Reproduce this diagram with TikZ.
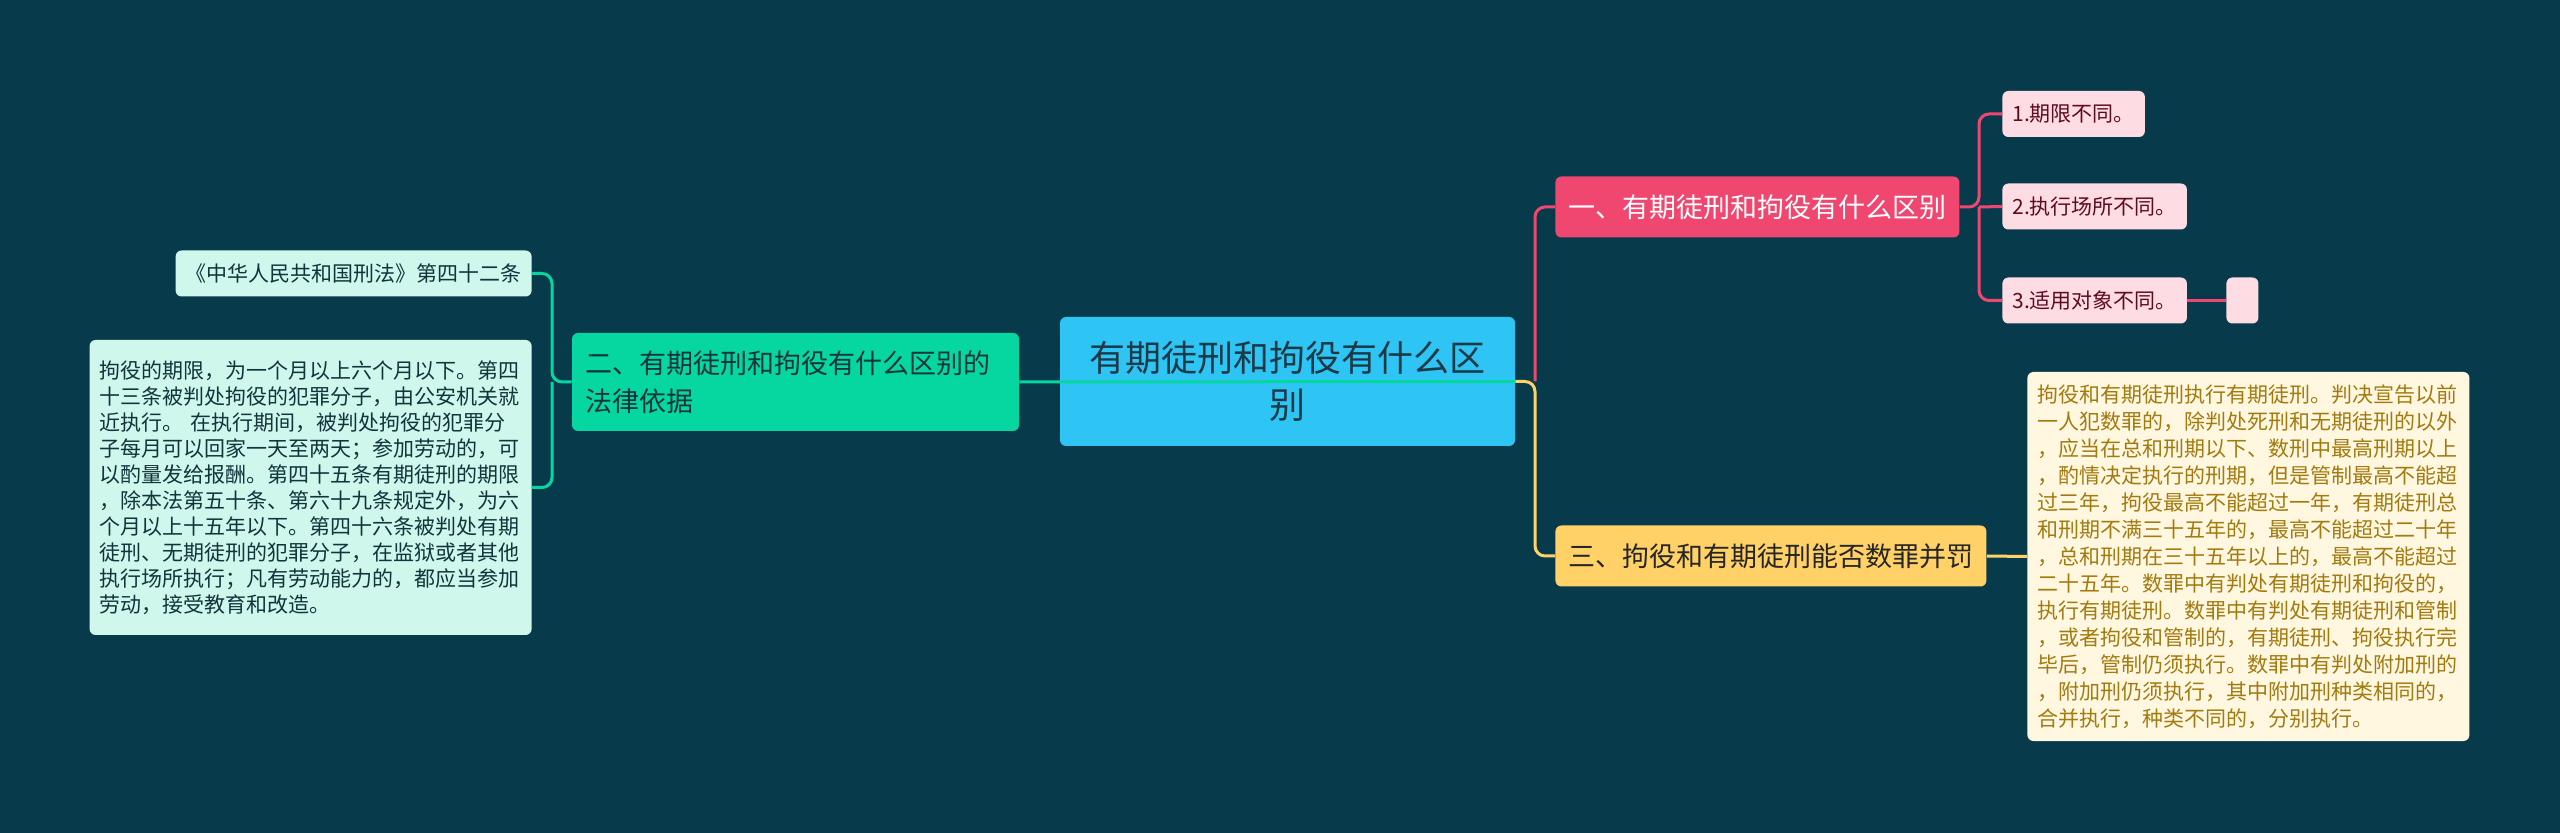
\documentclass[tikz,border=0pt]{standalone}
\usepackage{fontspec}
\setmainfont{Noto Sans CJK SC}
\definecolor{bgcol}{HTML}{073B4C}
\definecolor{rootcol}{HTML}{2EC4F4}
\definecolor{roottxt}{HTML}{1B3A48}
\definecolor{greencol}{HTML}{06D6A0}
\definecolor{greenleaf}{HTML}{CFF7EC}
\definecolor{greentxt}{HTML}{12343C}
\definecolor{pinkcol}{HTML}{EF476F}
\definecolor{pinkleaf}{HTML}{FDDCE3}
\definecolor{pinktxt}{HTML}{5E0A22}
\definecolor{yellowcol}{HTML}{FFD166}
\definecolor{yellowleaf}{HTML}{FFF7E0}
\definecolor{yellowtxt}{HTML}{A27A0E}
\tikzset{
  box/.style={rounded corners=3pt, inner ysep=0pt, inner xsep=5pt, align=left},
  rootbox/.style={box, fill=rootcol, text=roottxt, align=center,
    font=\fontsize{18}{23.5}\selectfont, minimum width=227.5pt, minimum height=64.5pt},
  mainbox/.style={box, fill=#1, inner xsep=6.5pt, minimum height=30.5pt,
    font=\fontsize{13.5}{18.8}\selectfont},
  leafbox/.style={box, fill=#1, minimum height=23pt,
    font=\fontsize{10.5}{12.2}\selectfont},
  link/.style={line width=1.5pt, rounded corners=5pt, draw=#1},
}
\begin{document}
\begin{tikzpicture}[x=0.5pt, y=-0.5pt]
\newcommand{\jl}{552}
\newcommand{\jr}{1535}
\newcommand{\jp}{1979}
\fill [bgcol] (0,0) rectangle (2560,833);
\useasboundingbox (0,0) rectangle (2560,833);

% root and main branches
\node [rootbox] (root) at (1287.5,381.5) {有期徒刑和拘役有什么区\\别};
\node [mainbox=greencol, text=greentxt, text width=210.5pt, minimum height=49pt]
  (basis) at (795.5,382) {二、有期徒刑和拘役有什么区别的\\法律依据};
\node [mainbox=pinkcol, text=white, anchor=west] (diff) at (1555,207)
  {一、有期徒刑和拘役有什么区别};
\node [mainbox=yellowcol, text=black!85, anchor=west] (merge) at (1555,556)
  {三、拘役和有期徒刑能否数罪并罚};

% leaves of the left branch
\node [leafbox=greenleaf, text=greentxt, inner xsep=5pt, anchor=east] (law) at (532,273.5)
  {《中华人民共和国刑法》第四十二条};
\node [leafbox=greenleaf, text=greentxt, text width=211pt, minimum height=147.5pt,
  font=\fontsize{10.5}{13}\selectfont, anchor=east] (article) at (532,487.5)
  {拘役的期限，为一个月以上六个月以下。第四\\
   十三条被判处拘役的犯罪分子，由公安机关就\\
   近执行。 在执行期间，被判处拘役的犯罪分\\
   子每月可以回家一天至两天；参加劳动的，可\\
   以酌量发给报酬。第四十五条有期徒刑的期限\\
   ，除本法第五十条、第六十九条规定外，为六\\
   个月以上十五年以下。第四十六条被判处有期\\
   徒刑、无期徒刑的犯罪分子，在监狱或者其他\\
   执行场所执行；凡有劳动能力的，都应当参加\\
   劳动，接受教育和改造。};

% leaves of the pink branch
\node [leafbox=pinkleaf, text=pinktxt, anchor=west] (term) at (2002,114) {1.期限不同。};
\node [leafbox=pinkleaf, text=pinktxt, anchor=west] (place) at (2002,206.5) {2.执行场所不同。};
\node [leafbox=pinkleaf, text=pinktxt, anchor=west] (object) at (2002,300.5) {3.适用对象不同。};
\node [leafbox=pinkleaf, minimum width=16pt, inner xsep=0pt, anchor=west] (blank) at (2226,300.5) {};

% leaf of the yellow branch
\node [leafbox=yellowleaf, text=yellowtxt, text width=211pt, minimum height=184.5pt,
  font=\fontsize{10.5}{13.5}\selectfont, anchor=west] (rule) at (2027,556.5)
  {拘役和有期徒刑执行有期徒刑。判决宣告以前\\
   一人犯数罪的，除判处死刑和无期徒刑的以外\\
   ，应当在总和刑期以下、数刑中最高刑期以上\\
   ，酌情决定执行的刑期，但是管制最高不能超\\
   过三年，拘役最高不能超过一年，有期徒刑总\\
   和刑期不满三十五年的，最高不能超过二十年\\
   ，总和刑期在三十五年以上的，最高不能超过\\
   二十五年。数罪中有判处有期徒刑和拘役的，\\
   执行有期徒刑。数罪中有判处有期徒刑和管制\\
   ，或者拘役和管制的，有期徒刑、拘役执行完\\
   毕后，管制仍须执行。数罪中有判处附加刑的\\
   ，附加刑仍须执行，其中附加刑种类相同的，\\
   合并执行，种类不同的，分别执行。};

\coordinate (jroot) at (\jr,381.5);
\coordinate (jbasis) at (\jl,382);
\coordinate (jdiff) at (\jp,207);

\draw [link=greencol] (root.east) -- (basis.east);
\draw [link=yellowcol] (root.east) -- (jroot) |- (merge.west);
\draw [link=pinkcol] (jroot) |- (diff.west);
\draw [link=greencol] (basis.west) -- (jbasis) |- (law.east);
\draw [link=greencol] (jbasis) |- (article.east);
\draw [link=pinkcol] (diff.east) -- (jdiff) |- (term.west);
\draw [link=pinkcol] (jdiff) -- (place.west);
\draw [link=pinkcol] (jdiff) |- (object.west);
\draw [link=pinkcol] (object.east) -- (blank.west);
\draw [link=yellowcol] (merge.east) -- (rule.west);
\end{tikzpicture}
\end{document}
